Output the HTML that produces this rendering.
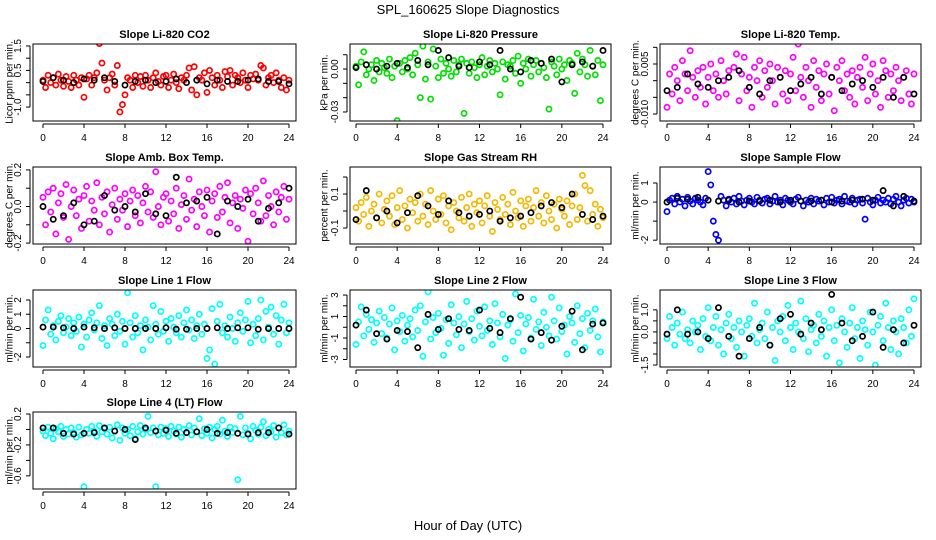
<!DOCTYPE html>
<html><head><meta charset="utf-8"><style>
html,body{margin:0;padding:0;background:#fff;}
svg{display:block;font-family:"Liberation Sans",sans-serif;}
</style></head><body>
<svg id="chart" width="936" height="540" viewBox="0 0 936 540" xmlns="http://www.w3.org/2000/svg">
<rect width="936" height="540" fill="#fff"/>
<text x="468" y="14" text-anchor="middle" font-size="13">SPL_160625  Slope Diagnostics</text>
<text x="468" y="530" text-anchor="middle" font-size="13">Hour of Day (UTC)</text>
</svg>
<script>
const hours = Array.from({length:97},(_,i)=>i*0.25);
const blackHours = Array.from({length:25},(_,i)=>i);
const xTicks = [0,4,8,12,16,20,24];
const titles = ["Slope Li-820 CO2","Slope Li-820 Pressure","Slope Li-820 Temp.","Slope Amb. Box Temp.","Slope Gas Stream RH","Slope Sample Flow","Slope Line 1 Flow","Slope Line 2 Flow","Slope Line 3 Flow","Slope Line 4 (LT) Flow"];
const yTitles = ["Licor ppm per min.","kPa per min.","degrees C per min.","degrees C per min.","percent per min.","ml/min per min.","ml/min per min.","ml/min per min.","ml/min per min.","ml/min per min."];
const yDomains = [[-1.57,1.58],[-0.0363,0.0175],[-0.0121,0.011],[-0.205,0.216],[-0.194,0.259],[-2.2,1.84],[-2.7,2.7],[-3.7,3.47],[-1.59,1.9],[-0.77,0.226]];
const yTicks = [[-1,-0.5,0,0.5,1,1.5],[0.01,0,-0.01,-0.02,-0.03],[0.01,0.005,0,-0.005,-0.01],[0.2,0.1,0,-0.1,-0.2],[0.2,0.1,0,-0.1],[1,0,-1,-2],[2,1,0,-1,-2],[3,2,1,0,-1,-2,-3],[1,0.5,0,-0.5,-1,-1.5],[0.2,0,-0.2,-0.4,-0.6]];
const yTickLabels = [["-1.0","","","0.5","","1.5"],["","0.00","","","-0.03"],["","0.005","","","-0.010"],["0.2","","0.0","","-0.2"],["","0.1","","-0.1"],["1","0","","-2"],["2","1","0","","-2"],["3","","1","","-1","","-3"],["1.0","","0.0","","","-1.5"],["0.2","","-0.2","","-0.6"]];
const colors = ["#ff0000","#00e000","#ff00ff","#ff00ff","#f5b800","#0000ff","#00ffff","#00ffff","#00ffff","#00ffff"];

const co2 = [0.1,-0.2,0.3,0.0,0.2,-0.1,0.35,0.1,-0.15,0.25,0.05,-0.2,0.3,0.1,-0.1,0.2,-0.6,0.15,0.3,-0.1,0.2,0.4,1.6,0.8,0.1,-0.3,0.2,0.35,-0.1,0.7,-1.2,-0.9,-0.5,0.2,0.1,-0.2,0.3,0.0,0.25,-0.15,0.3,0.1,-0.2,0.2,0.4,0.05,-0.1,0.25,0.3,-0.2,0.1,0.35,0.0,-0.25,0.2,0.1,0.3,0.6,-0.3,0.65,-0.5,0.2,0.1,0.4,-0.4,0.5,0.2,-0.1,0.3,0.1,-0.2,0.45,0.25,0.5,-0.1,0.3,0.2,0.0,0.4,0.1,-0.2,0.3,0.15,0.35,0.1,0.7,0.6,-0.1,0.2,0.3,0.0,0.4,0.1,-0.2,0.2,-0.3,0.1];
const co2Black = [0.05,0.2,0.1,0.0,0.15,0.1,0.2,0.05,-0.1,0.05,0.1,0.0,0.05,0.15,0.0,0.1,-0.05,0.1,0.05,0.05,0.1,0.15,0.05,0.05,-0.05];
const pressure = [0.002,-0.011,0.005,0.012,-0.004,0.0,0.003,-0.008,0.006,-0.002,0.004,0.001,-0.003,0.007,-0.006,0.002,-0.036,0.004,-0.002,0.006,0.0,0.008,-0.004,0.011,0.003,-0.02,0.016,-0.007,0.005,-0.021,0.014,0.002,-0.006,0.007,-0.003,0.004,0.0,-0.005,0.006,-0.002,0.003,0.007,-0.031,0.004,-0.003,0.005,0.001,-0.006,0.003,0.008,-0.004,0.002,0.006,-0.002,0.004,0.0,-0.018,0.005,-0.007,0.003,0.002,0.006,-0.003,0.009,-0.01,0.004,0.0,0.007,-0.005,0.003,0.006,-0.002,0.004,0.001,-0.006,-0.028,0.005,0.002,-0.004,0.007,0.0,0.003,-0.008,0.006,0.004,-0.017,0.011,-0.002,0.007,0.003,-0.005,0.013,0.002,-0.004,0.006,-0.022,0.003];
const pressureBlack = [0.001,0.003,0.0,0.002,0.004,0.001,0.006,0.003,0.013,0.008,0.002,0.001,0.005,0.003,0.013,0.0,-0.002,0.006,0.004,0.007,-0.009,0.003,0.005,0.002,0.013];
const licorTemp = [-0.008,0.002,-0.004,0.004,0.0,-0.006,0.006,0.002,-0.003,0.009,0.001,-0.005,0.003,-0.002,0.004,-0.007,0.001,0.005,-0.003,0.002,-0.005,0.006,0.0,-0.004,0.003,-0.013,0.004,0.008,-0.006,0.002,0.007,-0.003,0.001,-0.008,0.004,0.0,0.006,-0.005,0.003,-0.002,0.005,0.0,-0.007,0.004,0.001,-0.004,0.003,-0.006,0.002,0.007,-0.003,0.011,0.001,-0.005,0.004,0.0,-0.008,0.006,-0.002,0.003,-0.006,0.002,0.005,-0.004,0.001,-0.009,0.004,0.0,0.006,-0.003,0.002,-0.005,0.003,-0.007,0.001,0.004,-0.002,0.007,-0.006,0.002,0.005,-0.004,0.0,-0.008,0.006,0.003,-0.005,0.002,-0.003,0.004,0.0,-0.006,0.001,0.003,-0.004,-0.007,0.002];
const licorTempBlack = [-0.003,-0.002,0.002,-0.001,-0.002,0.0,0.001,0.003,-0.002,-0.004,0.0,0.001,-0.003,-0.001,0.001,-0.004,0.001,-0.003,-0.001,0.0,-0.002,0.001,-0.005,0.001,-0.004];
const ambTemp = [0.05,-0.1,0.08,-0.03,0.1,-0.15,0.02,0.07,-0.06,0.12,-0.18,0.0,0.09,-0.05,0.04,-0.12,0.06,0.11,-0.08,0.03,-0.02,0.13,-0.1,0.05,-0.04,0.08,-0.14,0.01,0.1,-0.07,0.04,-0.02,0.07,-0.11,0.03,0.09,-0.05,0.06,-0.09,0.02,0.11,-0.03,0.08,-0.06,0.19,0.0,-0.1,0.05,0.07,-0.08,0.03,-0.04,0.1,-0.12,0.01,0.06,-0.07,0.15,-0.02,0.04,-0.11,0.08,0.0,-0.05,0.09,-0.14,0.03,0.07,-0.06,0.11,-0.03,0.05,0.13,-0.09,0.02,0.06,-0.12,0.04,-0.01,0.09,-0.19,0.07,-0.04,0.1,0.02,-0.08,0.14,-0.05,0.06,0.0,-0.1,0.08,-0.03,0.05,0.11,-0.07,0.04];
const ambTempBlack = [0.0,-0.07,-0.05,0.02,-0.1,-0.08,0.06,-0.02,0.0,-0.03,0.07,-0.04,-0.05,0.16,0.02,0.03,0.05,-0.15,0.03,0.0,0.04,-0.08,-0.01,0.02,0.1];
const rh = [0.02,-0.06,0.05,-0.02,0.08,-0.09,0.0,0.04,-0.04,0.1,-0.07,0.01,0.06,-0.03,0.09,-0.08,0.02,0.12,-0.05,0.03,-0.1,0.07,-0.01,0.05,-0.06,0.1,-0.03,0.04,-0.08,0.12,0.0,-0.05,0.07,-0.02,0.09,-0.07,0.03,-0.11,0.05,0.0,-0.04,0.08,-0.06,0.02,0.1,-0.09,0.04,-0.01,0.06,-0.07,0.03,0.09,-0.03,-0.12,0.05,0.01,-0.05,0.08,-0.02,0.04,-0.08,0.11,0.0,-0.04,0.06,-0.09,0.03,0.07,-0.06,0.02,0.12,-0.03,0.05,-0.07,0.09,0.0,-0.05,0.04,-0.1,0.07,0.01,-0.03,0.06,-0.08,0.03,0.1,-0.05,0.02,0.21,0.15,-0.06,0.12,-0.02,0.04,-0.09,0.01,-0.04];
const rhBlack = [-0.05,0.12,-0.04,0.0,-0.07,-0.01,0.09,0.03,-0.02,0.06,-0.01,-0.03,-0.02,0.0,-0.06,-0.04,-0.03,-0.01,0.03,0.05,0.02,0.1,-0.02,-0.05,-0.03];
const sampleFlow = [-0.5,0.1,0.2,-0.1,0.3,0.0,0.15,-0.2,0.25,0.05,-0.1,0.2,0.1,0.0,-0.15,0.2,1.6,0.9,-1.0,-1.7,-2.0,0.3,0.1,-0.2,0.15,0.0,0.2,-0.1,0.3,0.05,-0.15,0.1,0.2,0.0,-0.1,0.25,0.1,-0.05,0.15,0.2,-0.1,0.05,0.3,0.0,0.1,-0.15,0.2,0.1,0.0,-0.1,0.15,0.25,0.05,-0.2,0.1,0.0,0.2,-0.1,0.15,0.05,0.1,-0.15,0.2,0.0,0.25,-0.05,0.1,0.15,-0.1,0.3,0.05,0.0,0.2,-0.1,0.1,0.15,-0.05,-0.9,0.2,0.0,-0.15,0.1,0.25,-0.05,0.1,0.0,0.2,-0.1,0.15,0.3,0.0,-0.2,0.1,0.2,-0.05,0.15,0.0];
const sampleFlowBlack = [0.0,0.2,0.15,0.25,0.1,0.05,0.1,0.0,0.05,0.05,0.1,0.0,0.1,0.05,0.05,0.1,0.0,0.05,0.1,0.15,0.1,0.6,-0.2,0.3,0.05];
const line1 = [-1.2,0.6,1.3,-0.4,0.2,-0.8,0.5,0.9,-0.3,0.1,0.7,-0.5,0.4,-0.2,0.8,-1.3,0.3,-0.6,0.6,1.1,-0.1,0.4,1.6,-0.7,0.2,-1.2,0.7,0.3,-0.5,1.0,-0.2,0.5,-1.1,2.5,0.4,-0.6,0.9,-0.3,0.2,-1.5,0.6,0.1,-0.8,1.6,0.3,-0.4,1.2,-0.2,0.5,-0.9,0.7,0.1,-0.3,0.9,-0.6,0.4,1.3,-0.1,0.6,-0.7,0.2,1.0,-0.4,0.3,-2.1,-1.5,1.4,-2.5,0.5,1.7,-0.3,0.2,-0.6,0.8,0.0,-0.9,0.4,1.1,-0.2,0.6,1.9,-1.0,0.3,-0.5,0.7,2.0,-0.8,1.2,0.1,1.5,-0.4,0.9,-1.1,0.6,1.7,-0.3,0.4];
const line1Black = [0.1,0.1,0.05,0.0,0.1,0.05,0.0,0.05,0.0,0.0,0.0,0.0,0.05,-0.05,-0.05,0.0,0.0,0.05,0.0,0.05,0.05,-0.05,0.0,0.0,0.0];
const line2 = [-1.6,0.5,1.9,-0.8,1.2,-0.2,0.7,-1.4,0.4,1.5,-0.6,0.9,-1.0,0.3,1.8,-2.1,0.6,-0.4,1.1,-1.3,0.2,0.8,-0.9,1.6,-0.3,2.0,-2.7,0.5,3.3,-1.1,0.9,-0.5,1.3,-0.1,-2.6,0.7,-1.5,2.1,0.4,-0.7,1.0,-1.9,0.3,2.4,-0.4,0.8,-1.2,1.5,0.1,-0.8,1.9,-0.3,0.6,-1.6,2.2,0.4,-0.9,1.2,-2.9,0.2,0.7,-1.3,3.1,-0.5,1.1,-2.2,0.3,0.9,-1.0,2.6,-0.2,0.5,-1.7,1.4,0.0,-0.8,2.8,0.6,-1.1,1.8,-0.4,0.2,-2.5,1.0,0.4,-1.4,2.0,-0.6,0.8,-1.9,1.3,-0.3,0.6,1.7,-0.9,-2.3,0.5];
const line2Black = [0.2,1.6,-0.6,-1.1,-0.3,-0.4,-1.9,1.2,-0.2,0.8,-0.2,-0.3,1.6,-0.1,-0.5,0.8,2.8,-1.1,-0.5,-1.2,0.1,1.5,-2.1,0.3,0.4];
const line3 = [-0.3,0.7,0.2,-0.6,0.4,-0.1,0.9,-0.3,0.1,-0.5,0.5,0.0,0.3,-0.8,0.6,-0.2,1.1,-0.4,0.2,0.7,-0.6,0.1,-1.0,0.4,0.8,-0.3,0.2,-0.7,0.5,0.0,-1.1,0.3,0.6,-0.2,1.3,-0.5,0.1,0.4,-0.3,0.9,-0.6,0.2,-1.3,0.5,0.0,0.7,-0.4,1.2,0.2,-0.8,0.4,0.0,1.4,-0.3,0.6,-0.9,0.1,0.3,-0.5,0.8,-0.2,0.5,-1.1,0.2,1.0,-0.4,0.3,-1.4,0.6,0.0,-0.7,0.4,1.1,-0.3,0.2,-1.2,0.5,0.1,-0.6,0.9,0.0,-1.5,0.3,0.7,-0.4,1.3,0.2,-0.8,0.5,0.0,-1.0,0.6,0.2,-0.5,1.0,-0.2,1.5];
const line3Black = [-0.1,1.0,-0.1,0.0,-0.3,1.1,-0.2,-1.1,-0.3,0.2,-0.6,0.6,0.8,-0.1,0.4,0.1,1.7,0.4,-0.4,-0.2,0.9,-0.7,0.1,-0.5,0.3];
const line4 = [-0.02,-0.08,0.03,-0.05,-0.12,0.01,-0.03,0.04,-0.09,0.0,-0.06,0.02,-0.04,-0.1,0.03,-0.07,-0.74,0.0,-0.05,0.04,-0.02,-0.09,0.05,-0.03,0.01,-0.06,0.03,-0.11,-0.02,0.06,-0.14,0.02,-0.05,0.0,-0.08,0.04,-0.12,-0.03,0.05,-0.06,0.0,0.17,-0.04,0.02,-0.74,-0.07,0.03,-0.05,0.01,-0.09,0.04,-0.02,-0.06,0.03,-0.1,0.0,-0.04,0.05,-0.07,0.02,-0.03,0.14,-0.08,0.01,-0.05,0.03,-0.11,0.0,0.04,-0.06,0.12,-0.02,-0.09,0.03,-0.04,0.01,-0.65,0.17,-0.07,0.02,-0.05,-0.12,0.04,-0.01,-0.06,0.03,0.1,-0.08,0.0,-0.03,0.05,-0.1,0.02,-0.04,0.06,-0.07,-0.02];
const line4Black = [0.02,0.02,-0.05,-0.06,-0.05,-0.04,0.02,-0.02,0.0,-0.13,0.02,-0.02,-0.01,-0.05,-0.04,-0.03,0.0,-0.05,-0.04,-0.05,-0.06,-0.04,-0.04,0.02,-0.06];

const coloredSeries = [co2,pressure,licorTemp,ambTemp,rh,sampleFlow,line1,line2,line3,line4];
const blackSeries = [co2Black,pressureBlack,licorTempBlack,ambTempBlack,rhBlack,sampleFlowBlack,line1Black,line2Black,line3Black,line4Black];

const NS = "http://www.w3.org/2000/svg";
const svg = document.getElementById('chart');
const colBox = [[33,296,43,289],[350,611,356,603],[660,921,667,914]];
const rowBox = [[44,121],[167,244],[290,367],[412,489]];
const yTitleX = [10,325,636];
function mk(tag, attrs, parent){const e=document.createElementNS(NS,tag);for(const k in attrs)e.setAttribute(k,attrs[k]);(parent||svg).appendChild(e);return e;}

for (let p=0;p<10;p++){
  const c=p%3, r=Math.floor(p/3);
  const [bx0,bx1,xa0,xa1]=colBox[c]; const [by0,by1]=rowBox[r];
  const [d0,d1]=yDomains[p];
  const xS=h=>xa0+(h/24)*(xa1-xa0);
  const yS=v=>by1-(v-d0)/(d1-d0)*(by1-by0);
  const g=mk('g',{});
  
  
  const t=mk('text',{x:(bx0+bx1)/2,y:by0-6,'text-anchor':'middle','font-size':11,'font-weight':'bold'},g);
  t.textContent=titles[p];
  
  
  const yt=mk('text',{x:yTitleX[c],y:(by0+by1)/2,'text-anchor':'middle','font-size':10,transform:`rotate(-90 ${yTitleX[c]} ${(by0+by1)/2})`,'dominant-baseline':'middle'},g);
  yt.textContent=yTitles[p];
  
  
  // points clipped
  const cid='clip'+p;
  const cp=mk('clipPath',{id:cid},g); mk('rect',{x:bx0,y:by0,width:bx1-bx0,height:by1-by0},cp);
  const pg=mk('g',{'clip-path':`url(#${cid})`},g);
  coloredSeries[p].forEach((v,i)=>{
    const el=mk('circle',{cx:xS(hours[i]),cy:yS(v),r:2.6,fill:'none',stroke:colors[p],'stroke-width':1.7},pg);
    
    
  });
  blackSeries[p].forEach((v,i)=>{
    const el=mk('circle',{cx:xS(blackHours[i]),cy:yS(v),r:2.6,fill:'none',stroke:'#000','stroke-width':1.7},pg);
    
    
  });
  const box=mk('rect',{x:bx0,y:by0,width:bx1-bx0,height:by1-by0,fill:'none',stroke:'#000','stroke-width':1},g);
  
  
  // x axis
  mk('line',{x1:xa0,x2:xa1,y1:by1+3,y2:by1+3,stroke:'#000'},g);
  xTicks.forEach(h=>{
    mk('line',{x1:xS(h),x2:xS(h),y1:by1+3,y2:by1+7,stroke:'#000'},g);
    const tl=mk('text',{x:xS(h),y:by1+20,'text-anchor':'middle','font-size':10},g);
    tl.textContent=h;
    
    
  });
  // y axis
  const tv=yTicks[p];
  mk('line',{x1:bx0-3,x2:bx0-3,y1:yS(tv[0]),y2:yS(tv[tv.length-1]),stroke:'#000'},g);
  tv.forEach((v,i)=>{
    const y=yS(v);
    mk('line',{x1:bx0-7,x2:bx0-3,y1:y,y2:y,stroke:'#000'},g);
    if(yTickLabels[p][i]){
      const tx=bx0-12;
      const tl=mk('text',{x:tx,y:y,'text-anchor':'middle','font-size':10,transform:`rotate(-90 ${tx} ${y})`},g);
      tl.textContent=yTickLabels[p][i];
      
      
    }
  });
}
</script>
</body></html>
